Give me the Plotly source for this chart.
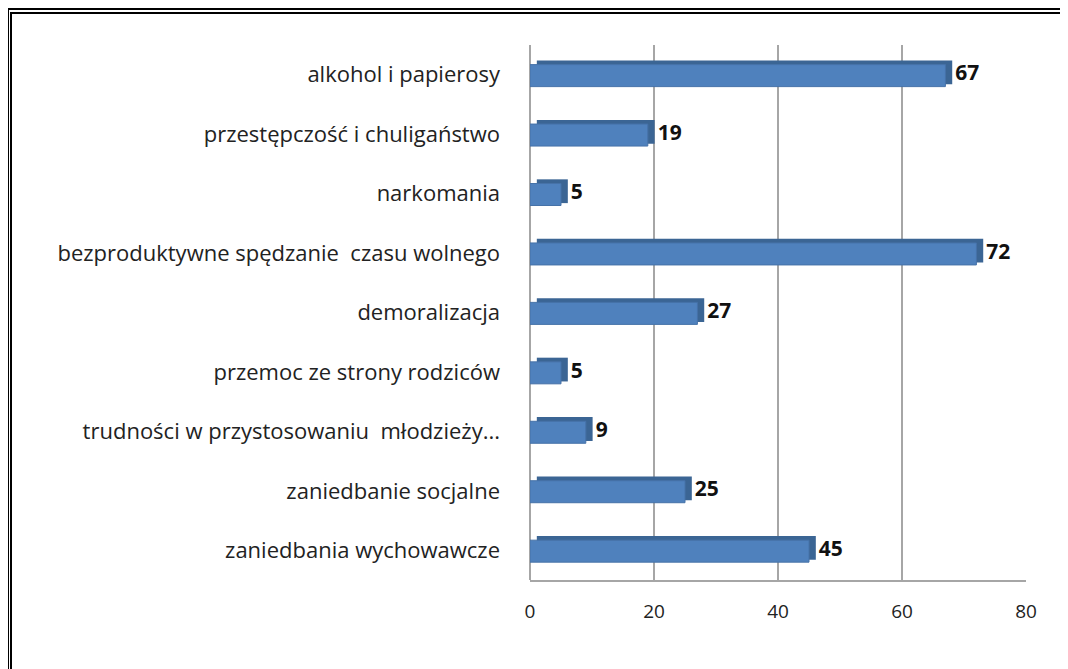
import plotly.graph_objects as go

# categories listed bottom-to-top, as plotted
categories = [
    "zaniedbania wychowawcze",
    "zaniedbanie socjalne",
    "trudności w przystosowaniu\u00a0 młodzieży...",
    "przemoc ze strony rodziców",
    "demoralizacja",
    "bezproduktywne spędzanie\u00a0 czasu wolnego",
    "narkomania",
    "przestępczość i chuligaństwo",
    "alkohol i papierosy",
]
values = [45, 25, 9, 5, 27, 72, 5, 19, 67]
x_ticks = [0, 20, 40, 60, 80]

# page has an 8px body margin, so the figure is 8px smaller
W, H = 1060, 661
L, R, T, B = 522, 1018, 37, 572


def px(x):
    return (x - L) / (R - L)


def py(y):
    return (B - y) / (B - T)


fig = go.Figure()

# depth face of the pseudo-3D bars
fig.add_trace(
    go.Bar(
        y=categories,
        x=values,
        base=1.1,
        orientation="h",
        width=0.40,
        offset=-0.16,
        marker=dict(color="#3B6594", line=dict(width=0)),
        text=[str(v) for v in values],
        textposition="outside",
        constraintext="none",
        textfont=dict(family="Open Sans", size=21, color="#111111", weight="bold"),
        cliponaxis=False,
        hoverinfo="skip",
    )
)
# front face
fig.add_trace(
    go.Bar(
        y=categories,
        x=values,
        orientation="h",
        width=0.37,
        offset=-0.2,
        marker=dict(color="#4F81BD", line=dict(color="#4672A8", width=1)),
    )
)

shapes = []
# double frame on the left and top
for pos, w in [(0, 2), (3, 2)]:
    shapes.append(dict(type="line", xref="paper", yref="paper",
                       x0=px(pos), x1=px(pos), y0=py(pos + 1), y1=py(H + 5),
                       line=dict(color="black", width=w)))
for pos, w in [(1, 2), (5, 2)]:
    shapes.append(dict(type="line", xref="paper", yref="paper",
                       x0=px(pos - 1), x1=px(W + 5), y0=py(pos), y1=py(pos),
                       line=dict(color="black", width=w)))

fig.update_layout(
    width=W,
    height=H,
    margin=dict(l=L, r=W - R, t=T, b=H - B),
    paper_bgcolor="white",
    plot_bgcolor="white",
    barmode="overlay",
    showlegend=False,
    shapes=shapes,
    font=dict(family="Open Sans", size=22, color="#222222"),
    xaxis=dict(
        range=[0, 80],
        tickvals=x_ticks,
        showgrid=True,
        gridcolor="#A6A6A6",
        gridwidth=2,
        zeroline=True,
        zerolinecolor="#A6A6A6",
        zerolinewidth=2,
        showline=True,
        linecolor="#A6A6A6",
        linewidth=2,
        ticklabelstandoff=13,
        tickfont=dict(size=19, color="#222222"),
    ),
    yaxis=dict(
        categoryorder="array",
        categoryarray=categories,
        showgrid=False,
        ticklabelstandoff=29,
        tickfont=dict(size=22, color="#222222"),
    ),
)

fig.write_html("out.html")
